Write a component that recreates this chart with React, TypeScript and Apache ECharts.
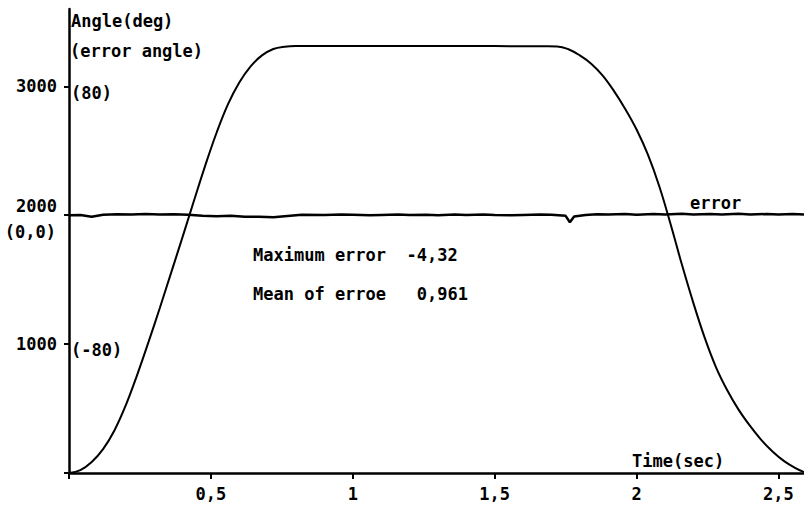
import React, { useEffect, useRef } from "react";
import * as echarts from "echarts";

// Angle trajectory (time in sec, angle in deg)
const angleTime = [0, 0.04, 0.08, 0.12, 0.16, 0.2, 0.24, 0.28, 0.32, 0.36, 0.4, 0.44, 0.48, 0.52, 0.56, 0.6, 0.64, 0.68, 0.72, 0.76, 0.8, 1.0, 1.25, 1.5, 1.68, 1.72, 1.76, 1.8, 1.84, 1.88, 1.92, 1.96, 2.0, 2.04, 2.08, 2.12, 2.16, 2.2, 2.24, 2.28, 2.32, 2.36, 2.4, 2.44, 2.48, 2.52, 2.56, 2.59];
const angleValue = [0, 22, 85, 185, 330, 525, 760, 1015, 1280, 1555, 1830, 2110, 2385, 2640, 2860, 3030, 3155, 3240, 3290, 3308, 3313, 3313, 3312, 3312, 3311, 3310, 3288, 3240, 3176, 3085, 2965, 2825, 2665, 2470, 2225, 1930, 1615, 1320, 1050, 820, 640, 490, 365, 255, 165, 92, 38, 8];

// Error angle (deg) — plotted around the 2000 line, (80) at 3000, (-80) at 1000
const errorTime = [0, 0.04, 0.08, 0.12, 0.17, 0.22, 0.27, 0.32, 0.37, 0.42, 0.47, 0.52, 0.57, 0.62, 0.67, 0.72, 0.77, 0.82, 0.9, 0.96, 1.0, 1.06, 1.1, 1.16, 1.2, 1.26, 1.3, 1.36, 1.4, 1.46, 1.5, 1.56, 1.6, 1.66, 1.7, 1.75, 1.765, 1.78, 1.82, 1.86, 1.9, 1.96, 2.0, 2.06, 2.1, 2.16, 2.2, 2.26, 2.3, 2.36, 2.4, 2.46, 2.5, 2.55, 2.59];
const errorValue = [0, 0.2, -0.9, 0.3, 0.6, 0.5, 0.7, 0.4, 0.6, 0.3, -0.4, -0.6, -0.3, -1.0, -0.9, -1.3, -0.5, 0.3, 0.2, 0.5, 0.3, 0.0, 0.2, 0.4, 0.1, 0.3, 0.0, 0.4, 0.2, 0.5, 0.2, 0.0, 0.2, 0.4, 0.3, -0.4, -4.32, -0.8, 0.2, 0.6, 0.4, 0.7, 0.3, 0.8, 0.5, 0.9, 0.4, 0.7, 0.5, 0.9, 0.4, 0.8, 0.5, 0.7, 0.4];
const errorZero = 2000;
const errorScale = 12.5; // units per degree of error

const xTickLabels: Record<string, string> = { "0.5": "0,5", "1": "1", "1.5": "1,5", "2": "2", "2.5": "2,5" };
const yTickLabels: Record<string, string> = { "1000": "1000", "2000": "{up|2000}", "3000": "3000" };

const FONT = "'DejaVu Sans Mono', 'Liberation Mono', monospace";

export default function App() {
  const ref = useRef<HTMLDivElement>(null);
  useEffect(() => {
    if (!ref.current) return;
    const chart = echarts.init(ref.current, undefined, { renderer: "svg" });
    const angleData = angleTime.map((t, i) => [t, angleValue[i]]);
    const errorData = errorTime.map((t, i) => [t, errorZero + errorValue[i] * errorScale]);
    const txt = (text: string, x: number, y: number, align = "left") => ({
      type: "text",
      x,
      y,
      style: {
        text,
        fill: "#000",
        font: `bold 17px ${FONT}`,
        textAlign: align,
        textVerticalAlign: "middle",
      },
    });
    chart.setOption({
      animation: false,
      backgroundColor: "#fff",
      grid: { left: 69, right: 0, top: 9, bottom: 38 },
      xAxis: {
        type: "value",
        min: 0,
        max: 2.59,
        interval: 0.5,
        splitLine: { show: false },
        axisLine: { show: true, lineStyle: { color: "#000", width: 2.5 } },
        axisTick: { show: true, length: 6, lineStyle: { color: "#000", width: 2 } },
        axisLabel: {
          color: "#000",
          fontFamily: FONT,
          fontWeight: "bold",
          fontSize: 17,
          margin: 12,
          showMaxLabel: false,
          formatter: (v: number) => xTickLabels[String(v)] ?? "",
        },
      },
      yAxis: {
        type: "value",
        min: 0,
        max: 3600,
        interval: 1000,
        splitLine: { show: false },
        axisLine: { show: true, lineStyle: { color: "#000", width: 2.5 } },
        axisTick: { show: true, length: 5, lineStyle: { color: "#000", width: 2 } },
        axisLabel: {
          color: "#000",
          fontFamily: FONT,
          fontWeight: "bold",
          fontSize: 17,
          margin: 12,
          showMaxLabel: false,
          formatter: (v: number) => yTickLabels[String(v)] ?? "",
          rich: {
            up: {
              fontFamily: FONT,
              fontWeight: "bold",
              fontSize: 17,
              color: "#000",
              padding: [0, 0, 18, 0],
            },
          },
        },
      },
      series: [
        {
          type: "line",
          data: angleData,
          smooth: 0.4,
          showSymbol: false,
          lineStyle: { color: "#000", width: 2 },
        },
        {
          type: "line",
          data: errorData,
          smooth: false,
          showSymbol: false,
          lineStyle: { color: "#000", width: 2.5 },
        },
      ],
      graphic: [
        txt("Angle(deg)", 71, 21),
        txt("(error angle)", 70, 51),
        txt("(80)", 71, 93),
        txt("(-80)", 71, 350),
        txt("(0,0)", 56, 232, "right"),
        txt("error", 690, 203),
        txt("Time(sec)", 632, 461),
        txt("Maximum error  -4,32", 253, 255),
        txt("Mean of erroe   0,961", 253, 294),
      ],
    });
    return () => chart.dispose();
  }, []);
  return (
    <div
      ref={ref}
      style={{ position: "fixed", left: 0, top: 0, width: 804, height: 511 }}
    />
  );
}
